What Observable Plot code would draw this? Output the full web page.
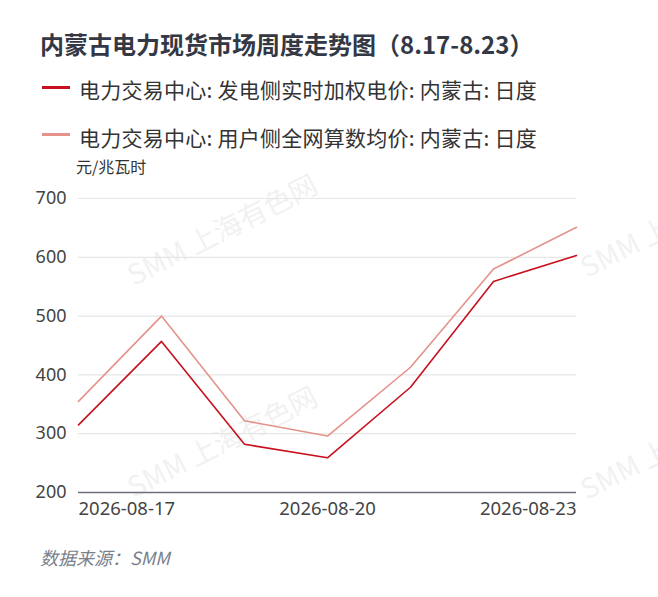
<!DOCTYPE html>
<html>
<head>
<meta charset="utf-8">
<script src="https://cdn.jsdelivr.net/npm/d3@7"></script>
<script src="https://cdn.jsdelivr.net/npm/@observablehq/plot@0.6"></script>
<style>
  body { margin: 0; background: #fff; font-family: "Noto Sans CJK SC", "Noto Sans", sans-serif; }
  #wrap { position: relative; width: 658px; height: 597px; overflow: hidden; }
  .abs { position: absolute; white-space: nowrap; }
  #title { left: 40px; top: 30px; font-size: 24px; line-height: 1.2; font-weight: bold; color: #333844; }
  .leg { left: 79px; font-size: 21px; line-height: 1.2; color: #333; letter-spacing: 0.25px; }
  .sw { position: absolute; left: 42px; width: 28px; height: 3px; }
  #unit { left: 76px; top: 157px; font-size: 16px; line-height: 1.2; color: #333; }
  #cap { left: 40px; top: 547px; font-size: 18px; line-height: 1.2; font-style: italic; color: #7a7f8a; }
  .wm { font-size: 28px; line-height: 1; color: #000; opacity: 0.05; transform: rotate(-27deg); transform-origin: left bottom; }
  #chart { position: absolute; left: 0; top: 175px; }
</style>
</head>
<body>
<div id="wrap">
  <div class="abs wm" style="left:135px;top:260px">SMM 上海有色网</div>
  <div class="abs wm" style="left:135px;top:472px">SMM 上海有色网</div>
  <div class="abs wm" style="left:588px;top:252px">SMM 上海有色网</div>
  <div class="abs wm" style="left:588px;top:474px">SMM 上海有色网</div>
  <div id="title" class="abs">内蒙古电力现货市场周度走势图（8.17-8.23）</div>
  <div class="sw" style="top:86px;background:#c8101e"></div>
  <div class="abs leg" style="top:77px">电力交易中心: 发电侧实时加权电价: 内蒙古: 日度</div>
  <div class="sw" style="top:133px;background:#e4928a"></div>
  <div class="abs leg" style="top:125px">电力交易中心: 用户侧全网算数均价: 内蒙古: 日度</div>
  <div id="unit" class="abs">元/兆瓦时</div>
  <div id="chart"></div>
  <div id="cap" class="abs">数据来源：SMM</div>
</div>
<script>
const dates = ["2026-08-17","2026-08-18","2026-08-19","2026-08-20","2026-08-21","2026-08-22","2026-08-23"];
const genPrice = [315, 457, 282, 259, 379, 559, 603];
const userPrice = [355, 500, 322, 296, 413, 580, 651];
const seriesNames = ["电力交易中心: 发电侧实时加权电价: 内蒙古: 日度", "电力交易中心: 用户侧全网算数均价: 内蒙古: 日度"];
const seriesColors = ["#c8101e", "#e4928a"];
const yTicks = [200, 300, 400, 500, 600, 700];
const xTickLabels = ["2026-08-17", "2026-08-20", "2026-08-23"];

const parse = d3.utcParse("%Y-%m-%d");
const rows = [];
dates.forEach((d, i) => {
  rows.push({date: parse(d), value: genPrice[i], series: seriesNames[0]});
  rows.push({date: parse(d), value: userPrice[i], series: seriesNames[1]});
});
const xt = xTickLabels.map(parse);
const fmt = d3.utcFormat("%Y-%m-%d");
const tickFont = {fontSize: 18.5, fill: "#444"};

const chart = Plot.plot({
  width: 658,
  height: 360,
  marginTop: 23,
  marginBottom: 43,
  marginLeft: 78,
  marginRight: 82,
  style: {fontFamily: "'Noto Sans', 'Noto Sans CJK SC', sans-serif", background: "transparent", overflow: "visible"},
  x: {type: "utc", domain: [parse(dates[0]), parse(dates[dates.length - 1])]},
  y: {domain: [200, 700]},
  color: {domain: seriesNames, range: seriesColors},
  marks: [
    Plot.gridY(yTicks, {stroke: "#e6e6e6", strokeOpacity: 1, strokeWidth: 1.2}),
    Plot.axisY(yTicks, {tickSize: 0, tickPadding: 12, fontSize: 18, fill: "#444", label: null}),
    Plot.axisX({ticks: [], label: null, tickSize: 0}),
    Plot.text([xt[0]], {x: d => d, frameAnchor: "bottom", dy: 22, textAnchor: "start", text: d => fmt(d), ...tickFont}),
    Plot.text([xt[1]], {x: d => d, frameAnchor: "bottom", dy: 22, textAnchor: "middle", text: d => fmt(d), ...tickFont}),
    Plot.text([xt[2]], {x: d => d, frameAnchor: "bottom", dy: 22, textAnchor: "end", text: d => fmt(d), ...tickFont}),
    Plot.line(rows, {x: "date", y: "value", stroke: "series", strokeWidth: 1.6, curve: "linear"}),
    Plot.ruleY([200], {stroke: "#6e7079", strokeWidth: 1.3})
  ]
});
document.getElementById("chart").appendChild(chart);
</script>
</body>
</html>
